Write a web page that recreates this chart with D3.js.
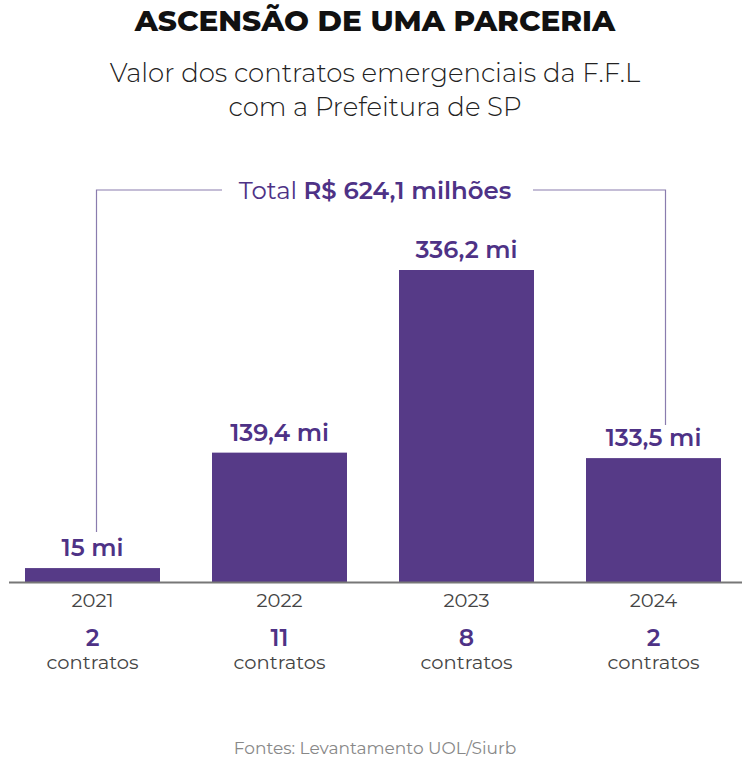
<!DOCTYPE html>
<html><head><meta charset="utf-8">
<script src="https://cdn.jsdelivr.net/npm/d3@7"></script>
<style>body{margin:0;background:#fff}svg{display:block}</style>
</head><body>
<script>
const years = ["2021","2022","2023","2024"];
const values = [15, 139.4, 336.2, 133.5];
const valueLabels = ["15 mi","139,4 mi","336,2 mi","133,5 mi"];
const contracts = [2, 11, 8, 2];
const title = "ASCENSÃO DE UMA PARCERIA";
const subtitle = ["Valor dos contratos emergenciais da F.F.L","com a Prefeitura de SP"];
const totalLabel = ["Total ", "R$ 624,1 milhões"];
const source = "Fontes: Levantamento UOL/Siurb";

const W = 750, H = 766;
const font = "Montserrat, 'Noto Sans', sans-serif";
const purple = "#563a87", textPurple = "#4e3286";
const svg = d3.select("body").append("svg").attr("width", W).attr("height", H).style("font-family", font);

const base = 582;
const x = d3.scaleBand().domain(years).range([25, 721]).paddingInner(52/187).paddingOuter(0);
const y = d3.scaleLinear().domain([0, 336.2]).range([base, 270]);

svg.append("text").attr("x", W/2).attr("y", 31).attr("text-anchor","middle")
  .attr("font-size", 29.5).attr("font-weight", 800).attr("fill", "#111").text(title);
subtitle.forEach((s,i)=> svg.append("text").attr("x", W/2).attr("y", 82 + i*34).attr("text-anchor","middle")
  .attr("font-size", 26).attr("font-weight", 300).attr("fill", "#222").text(s));

// bracket
const bx0 = x("2021") + x.bandwidth()/2 + 4, bx1 = x("2024") + x.bandwidth()/2 + 12;
const by = 190;
const bracket = svg.append("g").attr("stroke", "#8a7cae").attr("stroke-width", 1.2).attr("fill","none");
bracket.append("path").attr("d", `M${bx0},${y(values[0]) - 36}V${by}H222`);
bracket.append("path").attr("d", `M533,${by}H${bx1}V${y(values[3]) - 33}`);
const tt = svg.append("text").attr("x", W/2).attr("y", by + 9).attr("text-anchor","middle")
  .attr("font-size", 24.4).attr("fill", textPurple);
tt.append("tspan").attr("font-weight", 400).text(totalLabel[0]);
tt.append("tspan").attr("font-weight", 600).text(totalLabel[1]);

svg.selectAll("rect.bar").data(years).join("rect").attr("class","bar")
  .attr("x", d=>x(d)).attr("width", x.bandwidth())
  .attr("y", (d,i)=>y(values[i])).attr("height", (d,i)=>base - y(values[i]))
  .attr("fill", purple);

svg.selectAll("text.val").data(years).join("text").attr("class","val")
  .attr("x", d=>x(d)+x.bandwidth()/2).attr("y", (d,i)=>y(values[i]) - 12)
  .attr("text-anchor","middle").attr("font-size", 24).attr("font-weight", 600).attr("fill", textPurple)
  .text((d,i)=>valueLabels[i]);

const axis = d3.axisBottom(x).tickSize(0).tickPadding(11);
const ag = svg.append("g").attr("transform", `translate(0,${base})`).call(axis);
ag.select(".domain").remove();
ag.selectAll("text").attr("font-size", 19.5).attr("fill", "#444").attr("font-family", font);
svg.append("line").attr("x1", 9).attr("x2", 742).attr("y1", base+0.5).attr("y2", base+0.5)
  .attr("stroke", "#777").attr("stroke-width", 2);

svg.selectAll("text.cnt").data(years).join("text").attr("class","cnt")
  .attr("x", d=>x(d)+x.bandwidth()/2).attr("y", 646).attr("text-anchor","middle")
  .attr("font-size", 23.5).attr("font-weight", 600).attr("fill", textPurple).text((d,i)=>contracts[i]);
svg.selectAll("text.lab").data(years).join("text").attr("class","lab")
  .attr("x", d=>x(d)+x.bandwidth()/2).attr("y", 669).attr("text-anchor","middle")
  .attr("font-size", 19.5).attr("fill", "#444").text("contratos");

svg.append("text").attr("x", W/2).attr("y", 754).attr("text-anchor","middle")
  .attr("font-size", 17).attr("fill", "#888").text(source);
</script>
</body></html>
